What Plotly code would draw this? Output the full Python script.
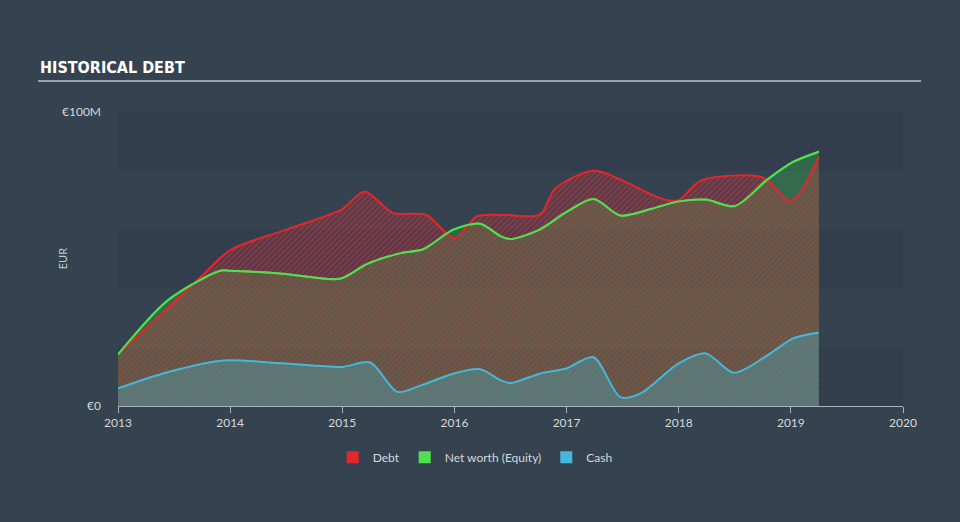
import plotly.graph_objects as go

# ---- data (values in € millions) ----
debt_x = [2013.0, 2013.73, 2014.0, 2014.5, 2015.0, 2015.2, 2015.45, 2015.75, 2016.0, 2016.2,
          2016.45, 2016.76, 2016.9, 2017.24, 2017.54, 2017.75, 2017.9, 2018.0, 2018.2, 2018.75,
          2019.0, 2019.25]
debt_y = [17.5, 43.6, 53.0, 60.0, 67.0, 73.0, 65.7, 65.0, 57.0, 64.5,
          65.0, 65.0, 74.0, 80.0, 76.0, 72.0, 70.0, 70.0, 76.7, 77.7,
          69.6, 84.8]

equity_x = [2013.0, 2013.44, 2013.91, 2014.0, 2014.47, 2014.98, 2015.22, 2015.52, 2015.72, 2015.99,
            2016.23, 2016.41, 2016.5, 2016.76, 2017.0, 2017.24, 2017.48, 2017.75, 2018.0, 2018.24,
            2018.5, 2018.79, 2019.02, 2019.25]
equity_y = [17.5, 35.8, 46.0, 46.0, 45.0, 43.3, 48.3, 52.0, 53.3, 60.0,
            62.0, 57.8, 56.8, 60.0, 66.0, 70.4, 64.8, 67.0, 69.6, 70.2,
            68.0, 77.0, 83.0, 86.5]

cash_x = [2013.0, 2013.44, 2013.94, 2014.47, 2015.0, 2015.25, 2015.49, 2015.7, 2015.99, 2016.23,
          2016.41, 2016.5, 2016.76, 2017.0, 2017.24, 2017.48, 2017.66, 2018.0, 2018.24, 2018.49,
          2018.79, 2019.02, 2019.25]
cash_y = [6.0, 11.5, 15.5, 14.5, 13.3, 14.8, 4.8, 7.0, 11.0, 12.5,
          8.8, 7.8, 11.0, 12.8, 16.6, 3.0, 4.3, 14.5, 17.9, 11.3,
          17.2, 23.0, 25.0]

x_ticks = [2013, 2014, 2015, 2016, 2017, 2018, 2019, 2020]
y_ticks = [0, 100]
y_tick_labels = ["€0", "€100M"]
band_edges = [0, 20, 40, 60, 80, 100]

BG = "#35424f"
BAND_DARK = "#323e4d"
FONT = "Lato, 'Noto Sans', sans-serif"
TITLE_FONT = "'Liberation Sans Narrow', 'DejaVu Sans Condensed', 'Arial Narrow', sans-serif"
RED = "#e8262a"
GREEN = "#4fe04f"
BLUE = "#44b8dc"

fig = go.Figure()

# Equity area (solid translucent green)
fig.add_trace(go.Scatter(
    x=equity_x, y=equity_y, name="Net worth (Equity)", mode="lines", showlegend=False,
    line=dict(color=GREEN, width=2, shape="spline", smoothing=0.8),
    fill="tozeroy", fillcolor="rgba(55,200,75,0.30)",
))
# Debt area (red hatch on top)
fig.add_trace(go.Scatter(
    x=debt_x, y=debt_y, name="Debt", mode="lines", showlegend=False,
    line=dict(color=RED, width=2, shape="spline", smoothing=0.8),
    fill="tozeroy", fillcolor="rgba(200,40,70,0.15)",
    fillpattern=dict(shape="/", fgcolor="rgba(230,50,50,0.85)", bgcolor="rgba(200,40,70,0.15)",
                     size=4, solidity=0.5),
))
# Equity line redrawn above the hatch
fig.add_trace(go.Scatter(
    x=equity_x, y=equity_y, mode="lines", showlegend=False, hoverinfo="skip",
    line=dict(color=GREEN, width=2, shape="spline", smoothing=0.8),
))
# Cash area
fig.add_trace(go.Scatter(
    x=cash_x, y=cash_y, name="Cash", mode="lines", showlegend=False,
    line=dict(color=BLUE, width=2, shape="spline", smoothing=0.8),
    fill="tozeroy", fillcolor="rgba(70,180,200,0.35)",
))

# Legend entries as squares
for name, col in [("Debt", RED), ("Net worth (Equity)", GREEN), ("Cash", BLUE)]:
    fig.add_trace(go.Bar(x=[None], y=[None], name=name, marker=dict(color=col, line=dict(width=0)),
                         showlegend=True))

shapes = []
for i in range(len(band_edges) - 1):
    if i % 2 == 0:
        shapes.append(dict(type="rect", xref="paper", yref="y", x0=0, x1=1,
                           y0=band_edges[i], y1=band_edges[i + 1],
                           fillcolor=BAND_DARK, line=dict(width=0), layer="below"))
# title underline
shapes.append(dict(type="line", xref="paper", yref="paper", x0=-0.1019, x1=1.023,
                   y0=1.1054, y1=1.1054, line=dict(color="#9aa3ad", width=2)))

fig.update_layout(
    width=960, height=522,
    paper_bgcolor=BG, plot_bgcolor=BG,
    margin=dict(l=118, r=57, t=112, b=116),
    font=dict(family=FONT, color="#d5d9de", size=12),
    shapes=shapes,
    showlegend=True,
    legend=dict(orientation="h", x=0.455, xanchor="center", y=-0.125, yanchor="top",
                font=dict(size=12, color="#d5d9de"), traceorder="normal",
                bgcolor="rgba(0,0,0,0)"),
    annotations=[
        dict(text="<b>HISTORICAL DEBT</b>", xref="paper", yref="paper",
             x=-0.1019, y=1.15, xanchor="left", yanchor="middle", showarrow=False,
             font=dict(family=TITLE_FONT, size=16, color="#ffffff")),
        dict(text="EUR", xref="paper", yref="paper", x=-0.071, y=0.5, textangle=-90,
             xanchor="center", yanchor="middle", showarrow=False,
             font=dict(size=11, color="#c5cad0")),
    ],
    xaxis=dict(range=[2013, 2020], tickvals=x_ticks, ticktext=[str(t) for t in x_ticks],
               showgrid=False, zeroline=False, showline=True, linecolor="#a9b4c0", linewidth=1,
               ticks="outside", ticklen=6, tickcolor="#a9b4c0",
               tickfont=dict(size=12, color="#d5d9de")),
    yaxis=dict(range=[0, 100], tickvals=y_ticks, ticktext=y_tick_labels,
               showgrid=False, zeroline=False, showline=False, ticklabelstandoff=16,
               tickfont=dict(size=12, color="#d5d9de")),
)

fig.write_html("out.html")
